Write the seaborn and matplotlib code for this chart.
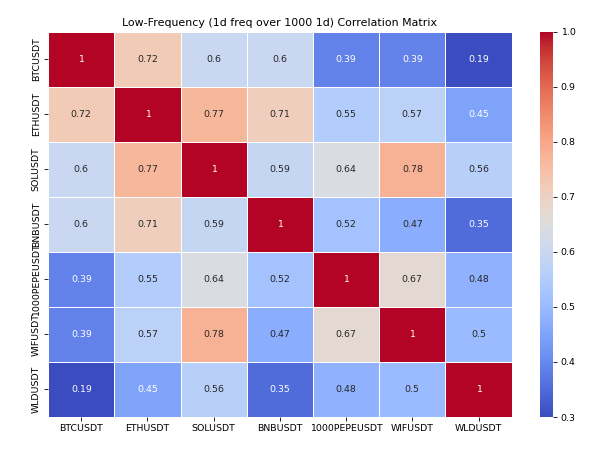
import matplotlib
matplotlib.use('agg')
from matplotlib import pyplot as plt
import seaborn as sns
import numpy as np
import pandas as pd

symbols = ['BTCUSDT', 'ETHUSDT', 'SOLUSDT', 'BNBUSDT', '1000PEPEUSDT', 'WIFUSDT', 'WLDUSDT']
btc = [1.00, 0.72, 0.60, 0.60, 0.39, 0.39, 0.19]
eth = [0.72, 1.00, 0.77, 0.71, 0.55, 0.57, 0.45]
sol = [0.60, 0.77, 1.00, 0.59, 0.64, 0.78, 0.56]
bnb = [0.60, 0.71, 0.59, 1.00, 0.52, 0.47, 0.35]
pepe = [0.39, 0.55, 0.64, 0.52, 1.00, 0.67, 0.48]
wif = [0.39, 0.57, 0.78, 0.47, 0.67, 1.00, 0.50]
wld = [0.19, 0.45, 0.56, 0.35, 0.48, 0.50, 1.00]

corr = pd.DataFrame([btc, eth, sol, bnb, pepe, wif, wld], index=symbols, columns=symbols)

fig = plt.figure(figsize=(602 / 75, 457 / 75), dpi=75)
ax = fig.add_axes([0.080, 0.0875, 0.770, 0.843])
cax = fig.add_axes([0.897, 0.0875, 0.022, 0.843])
sns.heatmap(corr, annot=True, cmap='coolwarm', vmin=0.3, vmax=1.0, linewidths=0.5,
            linecolor='white', ax=ax, cbar_ax=cax, annot_kws={'fontsize': 9})
ax.set_title('Low-Frequency (1d freq over 1000 1d) Correlation Matrix', fontsize=10.5)
ax.tick_params(labelsize=9)
plt.setp(ax.get_yticklabels(), rotation=90, va='center')
cax.tick_params(labelsize=9)
fig.savefig('out.png', dpi=75)
plt.close(fig)
